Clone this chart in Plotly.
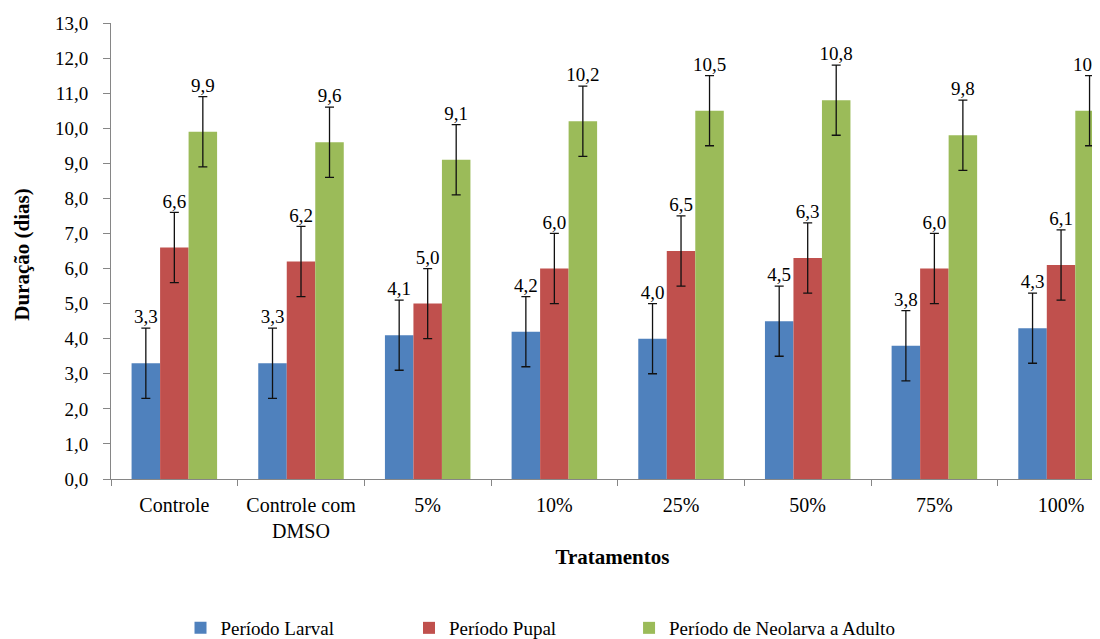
import plotly.graph_objects as go

categories = ["Controle", "Controle com<br>DMSO", "5%", "10%", "25%", "50%", "75%", "100%"]
larval = [3.3, 3.3, 4.1, 4.2, 4.0, 4.5, 3.8, 4.3]
pupal = [6.6, 6.2, 5.0, 6.0, 6.5, 6.3, 6.0, 6.1]
neolarva = [9.9, 9.6, 9.1, 10.2, 10.5, 10.8, 9.8, 10.5]
err_larval = [1.0] * 8
err_pupal = [1.0] * 8
err_neolarva = [1.0] * 8

series = [
    ("Período Larval", larval, err_larval, "#4F81BD", "legend"),
    ("Período Pupal", pupal, err_pupal, "#C0504D", "legend2"),
    ("Período de Neolarva a Adulto", neolarva, err_neolarva, "#9BBB59", "legend3"),
]

FONT = "Liberation Serif"
fig = go.Figure()
for name, vals, errs, color, leg in series:
    fig.add_trace(go.Bar(
        x=categories, y=vals, name=name, marker=dict(color=color, line=dict(width=0)),
        error_y=dict(type="data", array=errs, visible=True, color="#111111", thickness=1.3, width=4.5),
        offsetgroup=name, legend=leg,
    ))
for name, vals, errs, color, leg in series:
    fig.add_trace(go.Scatter(
        x=categories, y=[v + e for v, e in zip(vals, errs)], mode="text",
        text=[f"{v:.1f}".replace(".", ",") for v in vals], textposition="top center",
        textfont=dict(family=FONT, size=19, color="#000000"), showlegend=False,
        cliponaxis=False, offsetgroup=name, hoverinfo="skip",
    ))

legend_style = dict(orientation="h", xanchor="left", y=-0.328, yanchor="middle",
                    font=dict(family=FONT, size=19), itemwidth=30, bgcolor="rgba(0,0,0,0)")

fig.update_layout(
    width=1106, height=639,
    margin=dict(l=103, r=0, t=15, b=161),
    paper_bgcolor="white", plot_bgcolor="white",
    barmode="group", bargap=0.325, bargroupgap=0,
    scattermode="group", scattergap=0.325,
    separators=",.",
    font=dict(family=FONT, size=18, color="#000000"),
    showlegend=True,
    legend=dict(x=0.0693, **legend_style),
    legend2=dict(x=0.2971, **legend_style),
    legend3=dict(x=0.5165, **legend_style),
    annotations=[dict(text="<b>Duração (dias)</b>", xref="paper", yref="paper", x=-0.0887, y=0.492,
                      xanchor="center", yanchor="middle", textangle=-90, showarrow=False,
                      font=dict(family=FONT, size=21, color="#000000"))],
)
fig.update_yaxes(range=[0, 13], dtick=1, tickformat=".1f", showgrid=False, zeroline=False,
                 showline=True, linecolor="#868686", linewidth=1, ticks="outside", ticklen=7,
                 tickcolor="#868686", ticklabelstandoff=11, automargin=False,
                 tickfont=dict(family=FONT, size=19))
fig.update_xaxes(range=[-0.5, 7.418], showgrid=False, showline=True, linecolor="#868686", linewidth=1,
                 ticks="outside", tickson="boundaries", ticklen=6, tickcolor="#868686", automargin=False,
                 ticklabelstandoff=8,
                 tickfont=dict(family=FONT, size=20),
                 title=dict(text="<b>Tratamentos</b>", font=dict(family=FONT, size=21), standoff=8))

fig.write_html("out.html")
